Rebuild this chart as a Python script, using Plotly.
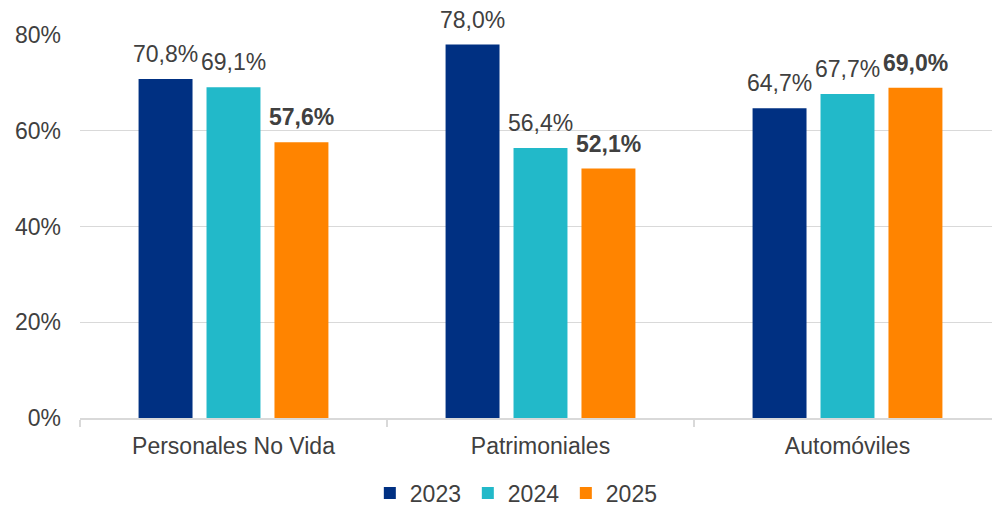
import plotly.graph_objects as go

categories = ["Personales No Vida", "Patrimoniales", "Automóviles"]
years = ["2023", "2024", "2025"]
values_2023 = [70.8, 78.0, 64.7]
values_2024 = [69.1, 56.4, 67.7]
values_2025 = [57.6, 52.1, 69.0]
series = [values_2023, values_2024, values_2025]
colors = ["#003082", "#22B9C9", "#FF8400"]
bold = [False, False, True]
y_ticks = [0, 20, 40, 60, 80]

FONT = "Liberation Sans, Arial, sans-serif"
TXT = "#404040"
BARGAP = 0.336
BARGROUPGAP = 0.206

fig = go.Figure()
for name, vals, col in zip(years, series, colors):
    fig.add_trace(go.Bar(
        name=name, x=categories, y=vals, marker=dict(color=col, line=dict(width=0)),
    ))

def fmt(v):
    return f"{v:.1f}".replace(".", ",") + "%"

n = len(series)
slot = (1 - BARGAP) / n
for k, (vals, b) in enumerate(zip(series, bold)):
    for i, v in enumerate(vals):
        t = fmt(v)
        if b:
            t = "<b>" + t + "</b>"
        fig.add_annotation(
            x=i + (k - (n - 1) / 2) * slot, y=v, xref="x", yref="y",
            text=t, showarrow=False, yanchor="bottom", xanchor="center",
            yshift=10, font=dict(family=FONT, size=23, color=TXT),
        )

fig.update_layout(
    width=992, height=512,
    margin=dict(l=80, r=0, t=35, b=94, autoexpand=False),
    paper_bgcolor="white", plot_bgcolor="white",
    barmode="group", bargap=BARGAP, bargroupgap=BARGROUPGAP,
    font=dict(family=FONT, size=23, color=TXT),
    showlegend=True,
    legend=dict(orientation="h", xref="container", x=0.521, xanchor="center",
                yref="container", y=0.037, yanchor="middle",
                font=dict(family=FONT, size=23, color=TXT), itemwidth=30,
                entrywidth=53, traceorder="normal"),
)
fig.update_xaxes(
    type="category", range=[-0.5, 2.4707],
    showline=True, linecolor="#D9D9D9", linewidth=2,
    ticks="outside", tickson="boundaries", ticklen=7, tickcolor="#D9D9D9", tickwidth=2,
    showgrid=False, ticklabelstandoff=6,
    tickfont=dict(family=FONT, size=23, color=TXT),
)
fig.update_yaxes(
    range=[0, 80], tickvals=y_ticks, ticktext=[f"{v}%" for v in y_ticks],
    showgrid=True, gridcolor="#D9D9D9", gridwidth=1.3,
    zeroline=False, showline=False, ticks="", ticklabelstandoff=18,
    tickfont=dict(family=FONT, size=23, color=TXT),
)
fig.write_html(
    "out.html",
    config={"displayModeBar": False},
    post_script="document.body.style.margin='0';document.body.style.overflow='hidden';",
)
